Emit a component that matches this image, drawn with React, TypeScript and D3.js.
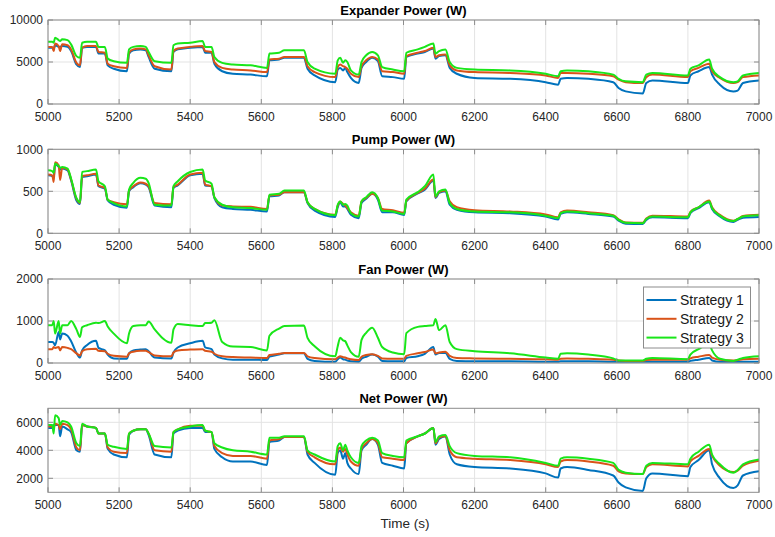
import React from "react";
import * as d3 from "d3";

const TIME = [5000,5012,5016,5020,5030,5034,5040,5055,5065,5080,
  5090,5096,5110,5135,5142,5160,5168,5185,5222,5228,
  5240,5260,5275,5283,5300,5347,5353,5365,5400,5435,
  5442,5460,5468,5490,5520,5570,5616,5623,5650,5665,
  5720,5730,5750,5808,5815,5822,5830,5836,5842,5852,
  5874,5882,5895,5912,5928,5940,5970,6002,6008,6040,
  6060,6084,6090,6100,6118,6130,6150,6200,6300,6400,
  6435,6442,6460,6520,6590,6605,6625,6673,6683,6700,
  6800,6807,6830,6860,6868,6890,6928,6940,6955,7000];

const EXP_S1 = [6700,6700,6600,7000,6800,6800,6900,6800,6300,4700,
  4400,6700,6800,6800,6000,6000,4600,4200,3900,6000,
  6400,6500,6400,5600,4200,3900,6200,6500,6700,6800,
  6100,6100,4800,3900,3600,3500,3300,5200,5300,5500,
  5500,4200,3400,2600,4100,4300,4000,4300,3800,3100,
  2500,4300,5000,5500,5100,3300,3200,3000,5600,6000,
  6200,6600,5400,5700,5800,4300,3600,3100,3000,2600,
  2300,3000,3100,3000,2600,1900,1500,1250,2500,2800,
  2500,3400,3900,4400,3500,2300,1500,1600,2500,2800];
const EXP_S2 = [6800,6800,6300,7200,6900,6300,7100,7000,6500,4900,
  4600,6700,6900,6900,6200,6100,4800,4500,4300,6100,
  6500,6600,6500,5800,4500,4100,6300,6600,6800,6900,
  6300,6200,5000,4300,4100,4000,3800,5300,5400,5600,
  5600,4500,3800,3200,4400,4700,4500,4400,4200,3600,
  3200,4500,5200,5600,5300,3900,3800,3600,5700,6100,
  6300,6700,5600,5800,5900,4600,4000,3800,3700,3400,
  3100,3700,3700,3600,3300,2900,2600,2500,3200,3500,
  3200,3900,4300,4800,3900,3100,2500,2600,3200,3400];
const EXP_S3 = [7400,7400,7300,7900,7600,7500,7700,7600,7100,5700,
  5500,7300,7400,7400,6800,6800,5400,5100,4900,6500,
  6800,6900,6800,6200,5100,4900,7000,7200,7300,7500,
  6800,6800,5600,4900,4700,4600,4300,6000,6100,6400,
  6400,5000,4200,3600,5200,5500,4900,5200,5000,4000,
  3500,5000,5800,6200,5800,4400,4100,3900,6100,6500,
  6800,7200,6000,6300,6500,5000,4300,4100,4000,3600,
  3300,3900,4000,3900,3500,3000,2700,2600,3500,3700,
  3400,4200,4600,5300,4200,3200,2600,2700,3400,3700];

const PUMP_S1 = [690,680,660,820,790,760,770,750,630,390,
  350,670,680,700,560,530,390,340,305,500,
  550,595,580,550,330,310,540,570,690,710,
  570,560,420,310,290,280,260,440,450,490,
  490,360,270,195,310,370,320,320,290,220,
  180,360,410,470,400,250,250,218,380,475,
  520,630,420,480,500,340,280,250,240,200,
  165,230,250,230,200,150,115,110,160,190,
  180,240,300,370,290,200,135,160,185,195];
const PUMP_S2 = [700,690,610,845,810,635,780,760,640,410,
  360,680,690,710,570,540,400,370,345,510,
  560,605,590,560,360,345,550,580,700,720,
  580,560,430,330,320,315,290,450,460,490,
  490,370,290,220,330,380,350,330,300,250,
  210,380,420,470,420,290,275,245,390,480,
  530,640,430,490,510,380,310,275,260,225,
  190,250,270,250,215,165,130,125,175,210,
  200,255,310,390,310,220,150,170,205,220];
const PUMP_S3 = [750,740,720,830,800,780,790,770,650,420,
  370,730,740,760,620,560,400,360,320,520,
  600,660,650,600,340,330,560,620,730,760,
  630,590,430,340,310,300,280,460,470,510,
  510,370,290,215,340,380,340,350,330,240,
  200,380,430,490,420,270,260,230,400,490,
  560,700,440,500,520,360,290,260,250,210,
  180,240,260,240,210,160,125,120,170,200,
  190,250,310,380,300,210,145,170,200,215];

const FAN_S1 = [500,500,480,420,740,560,700,650,520,240,
  130,300,430,530,360,300,200,110,100,230,
  300,320,330,280,130,110,250,370,470,530,
  370,330,200,110,80,80,70,150,200,230,
  230,100,50,30,90,130,90,80,60,40,
  30,100,150,200,150,50,40,40,120,160,
  220,380,200,240,240,100,50,40,40,30,
  30,40,40,40,30,30,30,30,30,30,
  30,50,80,120,60,30,30,30,30,30];
const FAN_S2 = [330,330,380,360,380,300,380,360,330,230,
  180,280,330,340,290,280,220,170,150,230,
  270,290,290,260,180,160,250,300,320,330,
  290,270,220,160,140,130,120,190,220,240,
  240,160,120,90,130,160,140,130,110,90,
  70,150,190,210,170,110,100,100,170,230,
  260,320,230,250,270,170,120,110,100,90,
  80,100,110,100,80,60,50,50,70,80,
  80,110,150,190,130,80,60,70,90,100];
const FAN_S3 = [900,900,1000,700,1000,700,900,900,1000,800,
  620,850,900,960,950,1000,870,700,470,700,
  880,900,900,990,800,480,800,930,900,880,
  950,960,1020,500,390,380,300,650,820,880,
  890,600,400,160,400,600,540,520,420,260,
  150,550,720,840,600,380,250,210,710,860,
  880,900,1050,780,900,500,330,280,230,130,
  100,220,230,200,110,60,60,60,100,120,
  90,200,330,450,300,100,50,80,120,160];

const NET_S1 = [5600,5600,5800,5800,5800,5000,5700,5500,5300,4000,
  3900,5800,5700,5600,5200,5200,4100,3700,3500,5100,
  5400,5500,5500,5100,3700,3500,5200,5400,5600,5600,
  5300,5300,4100,3500,3200,3200,2950,4600,4700,4950,
  4950,3700,3100,2250,3800,4000,3400,3800,3100,2700,
  2300,4000,4400,4800,4400,3100,2900,2700,4500,5000,
  5200,5600,4400,4800,5000,3700,3000,2800,2700,2350,
  2050,2700,2800,2600,2200,1700,1350,1100,2000,2350,
  2150,2800,3300,4000,3000,2000,1300,1500,2200,2500];
const NET_S2 = [5700,5700,5600,5900,5800,5500,5900,5800,5500,4200,
  4000,5800,5700,5600,5200,5200,4200,3900,3800,5200,
  5400,5500,5500,5200,4000,3900,5300,5500,5750,5750,
  5400,5300,4300,3800,3600,3600,3400,4700,4800,4950,
  4950,3900,3500,3000,4000,4200,3900,4100,3700,3200,
  2900,4100,4500,4800,4500,3500,3400,3300,4500,5000,
  5200,5600,4500,4900,5000,4000,3500,3400,3300,3000,
  2800,3200,3300,3200,2900,2500,2350,2300,2800,3000,
  2850,3200,3600,4100,3600,2900,2450,2550,2900,3250];
const NET_S3 = [5800,5800,5200,6500,6300,5800,6100,6000,5700,4500,
  4300,5900,5700,5600,5200,5200,4400,4250,4100,5200,
  5400,5500,5500,5200,4300,4200,5300,5500,5700,5800,
  5400,5300,4500,4200,4000,3900,3700,4900,4900,5000,
  5000,4000,3700,3200,4300,4500,4000,4400,4000,3500,
  3100,4300,4700,4900,4700,3800,3600,3500,4700,5000,
  5200,5600,4600,5000,5100,4300,3800,3600,3500,3100,
  2900,3400,3500,3400,3100,2600,2400,2300,2900,3100,
  3000,3400,3900,4400,3700,3000,2400,2600,3000,3350];

const X_TICKS = [5000,5200,5400,5600,5800,6000,6200,6400,6600,6800,7000];
const SERIES_NAMES = ["Strategy 1", "Strategy 2", "Strategy 3"];
const COLORS = ["#0072BD", "#D95319", "#19e619"];

const PANELS = [
  { title: "Expander Power (W)", domain: [0, 10000], ticks: [0, 5000, 10000], series: [EXP_S1, EXP_S2, EXP_S3] },
  { title: "Pump Power (W)", domain: [0, 1000], ticks: [0, 500, 1000], series: [PUMP_S1, PUMP_S2, PUMP_S3] },
  { title: "Fan Power (W)", domain: [0, 2000], ticks: [0, 1000, 2000], series: [FAN_S1, FAN_S2, FAN_S3] },
  { title: "Net Power (W)", domain: [1000, 7000], ticks: [2000, 4000, 6000], series: [NET_S1, NET_S2, NET_S3] },
];

const W = 775, H = 537;
const LEFT = 48, RIGHT = 759;
const TOPS = [20, 149.3, 279, 408.3];
const PH = 84;
const FONT = "'Liberation Sans', Arial, Helvetica, sans-serif";
const TXT = "#262626";
const BOX = "#8c8c8c";
const GRID = "#e3e3e3";

function Panel({ p, top, idx }: any) {
  const x = d3.scaleLinear().domain([5000, 7000]).range([LEFT, RIGHT]);
  const y = d3.scaleLinear().domain(p.domain).range([top + PH, top]);
  const line = d3.line<number>()
    .x((_, i) => x(TIME[i]))
    .y((d) => y(d))
    .curve(d3.curveMonotoneX);
  const clipId = `clip${idx}`;
  return (
    <g>
      <defs>
        <clipPath id={clipId}>
          <rect x={LEFT} y={top} width={RIGHT - LEFT} height={PH} />
        </clipPath>
      </defs>
      <rect x={LEFT} y={top} width={RIGHT - LEFT} height={PH} fill="#fff" />
      {X_TICKS.map((t) => (
        <line key={"gx" + t} x1={x(t)} x2={x(t)} y1={top} y2={top + PH} stroke={GRID} strokeWidth={1} />
      ))}
      {p.ticks.map((t: number) => (
        <line key={"gy" + t} x1={LEFT} x2={RIGHT} y1={y(t)} y2={y(t)} stroke={GRID} strokeWidth={1} />
      ))}
      <g clipPath={`url(#${clipId})`}>
        {p.series.map((s: number[], i: number) => (
          <path key={i} d={line(s) || ""} fill="none" stroke={COLORS[i]} strokeWidth={2} strokeLinejoin="round" />
        ))}
      </g>
      <rect x={LEFT} y={top} width={RIGHT - LEFT} height={PH} fill="none" stroke={BOX} strokeWidth={1} />
      {X_TICKS.map((t) => (
        <g key={"tx" + t}>
          <line x1={x(t)} x2={x(t)} y1={top + PH} y2={top + PH - 5} stroke={BOX} />
          <line x1={x(t)} x2={x(t)} y1={top} y2={top + 5} stroke={BOX} />
          <text x={x(t)} y={top + PH + 17} textAnchor="middle" fontSize={12} fill={TXT} fontFamily={FONT}>{t}</text>
        </g>
      ))}
      {p.ticks.map((t: number) => (
        <g key={"ty" + t}>
          <line x1={LEFT} x2={LEFT + 5} y1={y(t)} y2={y(t)} stroke={BOX} />
          <line x1={RIGHT} x2={RIGHT - 5} y1={y(t)} y2={y(t)} stroke={BOX} />
          <text x={LEFT - 5} y={y(t) + 4.3} textAnchor="end" fontSize={12} fill={TXT} fontFamily={FONT}>{t}</text>
        </g>
      ))}
      <text x={(LEFT + RIGHT) / 2} y={top - 5} textAnchor="middle" fontSize={13} fontWeight="bold" fill="#000" fontFamily={FONT}>{p.title}</text>
    </g>
  );
}

export default function App() {
  const lx = 643.5, ly = 287, lw = 107, lh = 61;
  return (
    <svg width={W} height={H} style={{ position: "absolute", left: 0, top: 0, background: "#fff" }}>
      <rect x={0} y={0} width={W} height={H} fill="#fff" />
      {PANELS.map((p, i) => (
        <Panel key={i} p={p} top={TOPS[i]} idx={i} />
      ))}
      <text x={405} y={528} textAnchor="middle" fontSize={13.5} fill={TXT} fontFamily={FONT}>Time (s)</text>
      <g>
        <rect x={lx} y={ly} width={lw} height={lh} fill="#fff" stroke={BOX} strokeWidth={1} />
        {SERIES_NAMES.map((n, i) => (
          <g key={n}>
            <line x1={646.5} x2={676.5} y1={300 + i * 18.8} y2={300 + i * 18.8} stroke={COLORS[i]} strokeWidth={2} />
            <text x={680} y={300 + i * 18.8 + 5} fontSize={14} fill="#1a1a1a" fontFamily={FONT}>{n}</text>
          </g>
        ))}
      </g>
    </svg>
  );
}
